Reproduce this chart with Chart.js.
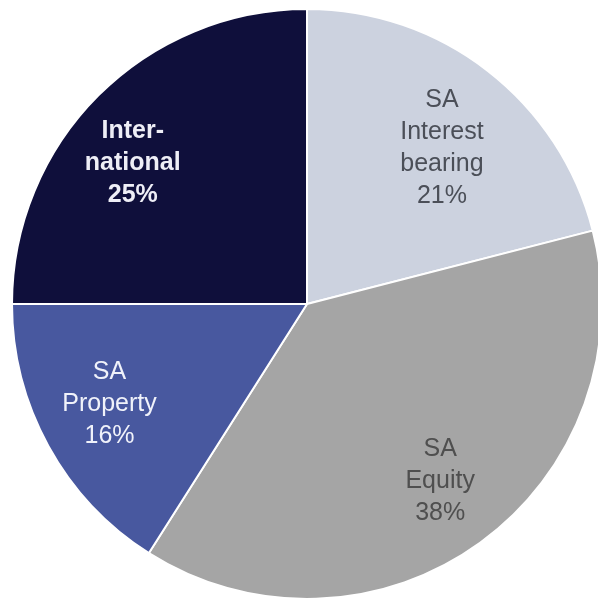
<!DOCTYPE html>
<html>
<head>
<meta charset="utf-8">
<script src="https://cdn.jsdelivr.net/npm/chart.js@4/dist/chart.umd.min.js"></script>
<style>
  html, body { margin: 0; padding: 0; background: #fff; overflow: hidden; width: 598px; height: 603px; }
  .pie-wrap { position: absolute; left: 11px; top: 8px; width: 592px; height: 592px; }
</style>
</head>
<body>
<div class="pie-wrap"><canvas id="pie"></canvas></div>
<script>
// asset allocation, clockwise from 12 o'clock
const categories = ['SA Interest bearing', 'SA Equity', 'SA Property', 'International'];
const shares = [21, 38, 16, 25];
const labelLines = [['SA', 'Interest', 'bearing'], ['SA', 'Equity'], ['SA', 'Property'], ['Inter-', 'national']];
const sliceColors = ['#ccd2df', '#a5a5a5', '#48589f', '#0f0f3b'];
const textColors = ['#4b4f58', '#4f4f4f', '#f0f2fa', '#eeeef6'];
const textWeights = ['normal', 'normal', 'normal', 'bold'];

// label placement tweaks per slice: radius fraction, angle shift in degrees
const labelRadius = [0.70, 0.75, 0.75, 0.76];
const labelShift = [3, -1, 2, -6];

const sliceLabels = {
    id: 'sliceLabels',
    afterDatasetsDraw(chart) {
        const ctx = chart.ctx;
        const meta = chart.getDatasetMeta(0);
        ctx.save();
        ctx.textAlign = 'center';
        ctx.textBaseline = 'middle';
        meta.data.forEach((arc, i) => {
            const p = arc.getProps(['x', 'y', 'startAngle', 'endAngle', 'outerRadius'], true);
            const mid = (p.startAngle + p.endAngle) / 2 + labelShift[i] * Math.PI / 180;
            const r = p.outerRadius * labelRadius[i];
            const cx = p.x + Math.cos(mid) * r;
            const cy = p.y + Math.sin(mid) * r;
            const lines = labelLines[i].concat([shares[i] + '%']);
            const lh = 32;
            ctx.font = textWeights[i] + ' 25px "Liberation Sans", Arial, sans-serif';
            ctx.fillStyle = textColors[i];
            lines.forEach((t, k) => {
                ctx.fillText(t, cx, cy + (k - (lines.length - 1) / 2) * lh);
            });
        });
        ctx.restore();
    }
};

new Chart(document.getElementById('pie').getContext('2d'), {
    type: 'pie',
    data: {
        labels: categories,
        datasets: [{
            data: shares,
            backgroundColor: sliceColors,
            borderColor: '#ffffff',
            borderWidth: 2,
            hoverOffset: 0,
            offset: 0
        }]
    },
    options: {
        responsive: true,
        maintainAspectRatio: false,
        animation: false,
        layout: { padding: 0 },
        plugins: {
            legend: { display: false },
            tooltip: { enabled: false }
        }
    },
    plugins: [sliceLabels]
});
</script>
</body>
</html>
